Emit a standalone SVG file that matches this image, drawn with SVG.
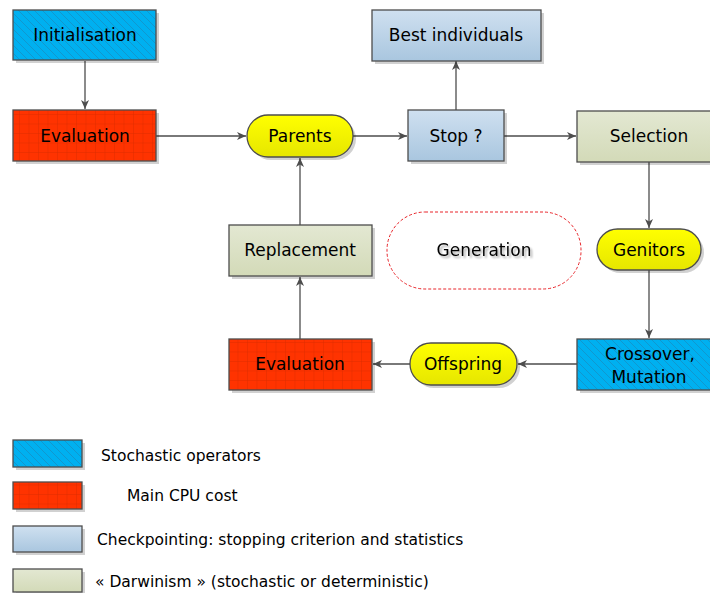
<svg xmlns="http://www.w3.org/2000/svg" width="710" height="593" viewBox="0 0 710 593">
<style>
text{font-family:"Comic Sans MS","DejaVu Sans","Liberation Sans",sans-serif;fill:#000;text-anchor:middle}
.lbl{font-size:17px}
.leg{font-size:15.5px;text-anchor:start}
.box{stroke:#4d4d4d;stroke-width:1.3}
.conn{fill:none;stroke:#4d4d4d;stroke-width:1.3}
.sh{fill:#000;opacity:0.18}
</style>
<defs>
<pattern id="hatch" width="8" height="8" patternUnits="userSpaceOnUse">
<rect width="8" height="8" fill="#00b0f0"/>
<path d="M0,0 L8,8 M-4,4 L4,12 M4,-4 L12,4" stroke="#1a8cc0" stroke-width="0.7"/>
</pattern>
<pattern id="grid" width="9.5" height="9.5" patternUnits="userSpaceOnUse">
<rect width="9.5" height="9.5" fill="#ff3300"/>
<path d="M0,0 H9.5 M0,0 V9.5" stroke="#d92b00" stroke-width="0.8"/>
</pattern>
<linearGradient id="lblue" x1="0" y1="0" x2="0" y2="1">
<stop offset="0" stop-color="#cfe0f0"/><stop offset="1" stop-color="#a9c6df"/>
</linearGradient>
<linearGradient id="green" x1="0" y1="0" x2="0" y2="1">
<stop offset="0" stop-color="#e3e8d2"/><stop offset="1" stop-color="#d3dab8"/>
</linearGradient>
<linearGradient id="yellow" x1="0" y1="0" x2="0" y2="1">
<stop offset="0" stop-color="#ffff00"/><stop offset="1" stop-color="#e6e600"/>
</linearGradient>
<filter id="tsh" x="-10%" y="-30%" width="130%" height="160%">
<feGaussianBlur in="SourceAlpha" stdDeviation="1"/>
<feOffset dx="1.5" dy="1.5" result="b"/>
<feComponentTransfer><feFuncA type="linear" slope="0.35"/></feComponentTransfer>
<feMerge><feMergeNode/><feMergeNode in="SourceGraphic"/></feMerge>
</filter>
<marker id="arr" markerWidth="10" markerHeight="10" refX="9" refY="5" orient="auto" markerUnits="userSpaceOnUse">
<path d="M0,1 L9,5 L0,9 L2.5,5 Z" fill="#4d4d4d"/>
</marker>
</defs>
<rect width="710" height="593" fill="#fff"/>

<g id="connectors">
<path class="conn" d="M85,61 V109" marker-end="url(#arr)"/>
<path class="conn" d="M156,136 H246" marker-end="url(#arr)"/>
<path class="conn" d="M353,136 H407" marker-end="url(#arr)"/>
<path class="conn" d="M456,110 V61" marker-end="url(#arr)"/>
<path class="conn" d="M504,136 H576" marker-end="url(#arr)"/>
<path class="conn" d="M649,162 V228" marker-end="url(#arr)"/>
<path class="conn" d="M649,270 V338" marker-end="url(#arr)"/>
<path class="conn" d="M577,364 H518" marker-end="url(#arr)"/>
<path class="conn" d="M410,364 H373" marker-end="url(#arr)"/>
<path class="conn" d="M300,339 V277" marker-end="url(#arr)"/>
<path class="conn" d="M300,225 V158" marker-end="url(#arr)"/>
</g>

<g id="initialisation">
<rect class="sh" x="16" y="13" width="143" height="50"/>
<rect class="box" x="13" y="10" width="143" height="50" fill="url(#hatch)"/>
<text class="lbl" x="85" y="41">Initialisation</text>
</g>
<g id="evaluation1">
<rect class="sh" x="16" y="113" width="143" height="51"/>
<rect class="box" x="13" y="110" width="143" height="51" fill="url(#grid)"/>
<text class="lbl" x="85" y="142">Evaluation</text>
</g>
<g id="parents">
<rect class="sh" x="250" y="118" width="106" height="42" rx="21"/>
<rect class="box" x="247" y="115" width="106" height="42" rx="21" fill="url(#yellow)"/>
<text class="lbl" x="300" y="142">Parents</text>
</g>
<g id="stop">
<rect class="sh" x="411" y="113" width="96" height="51"/>
<rect class="box" x="408" y="110" width="96" height="51" fill="url(#lblue)"/>
<text class="lbl" x="456" y="142">Stop ?</text>
</g>
<g id="best">
<rect class="sh" x="375" y="13" width="169" height="51"/>
<rect class="box" x="372" y="10" width="169" height="51" fill="url(#lblue)"/>
<text class="lbl" x="456" y="41">Best individuals</text>
</g>
<g id="selection">
<rect class="sh" x="580" y="114" width="135" height="51"/>
<rect class="box" x="577" y="111" width="135" height="51" fill="url(#green)"/>
<text class="lbl" x="649" y="142">Selection</text>
</g>
<g id="genitors">
<rect class="sh" x="600" y="232" width="104" height="41" rx="20.5"/>
<rect class="box" x="597" y="229" width="104" height="41" rx="20.5" fill="url(#yellow)"/>
<text class="lbl" x="649" y="256">Genitors</text>
</g>
<g id="crossover">
<rect class="sh" x="580" y="342" width="135" height="51"/>
<rect class="box" x="577" y="339" width="135" height="51" fill="url(#hatch)"/>
<text class="lbl" x="650" y="360">Crossover,</text>
<text class="lbl" x="649" y="383">Mutation</text>
</g>
<g id="offspring">
<rect class="sh" x="413" y="346" width="107" height="42" rx="21"/>
<rect class="box" x="410" y="343" width="107" height="42" rx="21" fill="url(#yellow)"/>
<text class="lbl" x="463" y="370">Offspring</text>
</g>
<g id="evaluation2">
<rect class="sh" x="232" y="342" width="143" height="51"/>
<rect class="box" x="229" y="339" width="143" height="51" fill="url(#grid)"/>
<text class="lbl" x="300" y="370">Evaluation</text>
</g>
<g id="replacement">
<rect class="sh" x="232" y="228" width="143" height="51"/>
<rect class="box" x="229" y="225" width="143" height="51" fill="url(#green)"/>
<text class="lbl" x="300" y="256">Replacement</text>
</g>
<g id="generation">
<rect x="387" y="212" width="194" height="77" rx="38" fill="#fff" stroke="#e8252a" stroke-width="1" stroke-dasharray="3,2"/>
<text class="lbl" x="484" y="256" filter="url(#tsh)">Generation</text>
</g>

<g id="legend">
<rect class="sh" x="16" y="443" width="69" height="27"/>
<rect class="box" x="13" y="440" width="69" height="27" fill="url(#hatch)"/>
<text class="leg" x="101" y="461">Stochastic operators</text>
<rect class="sh" x="16" y="485" width="69" height="27"/>
<rect class="box" x="13" y="482" width="69" height="27" fill="url(#grid)"/>
<text class="leg" x="127" y="501">Main CPU cost</text>
<rect class="sh" x="16" y="529" width="69" height="26"/>
<rect class="box" x="13" y="526" width="69" height="26" fill="url(#lblue)"/>
<text class="leg" x="97" y="545">Checkpointing: stopping criterion and statistics</text>
<rect class="sh" x="16" y="572" width="69" height="23"/>
<rect class="box" x="13" y="569" width="69" height="23" fill="url(#green)"/>
<text class="leg" x="95" y="587">« Darwinism » (stochastic or deterministic)</text>
</g>
</svg>
